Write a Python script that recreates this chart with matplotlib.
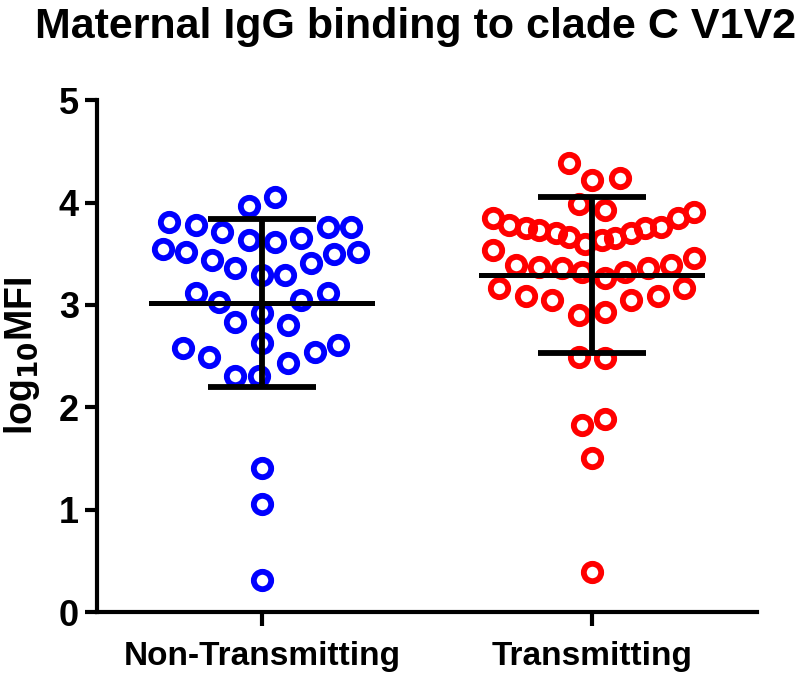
import numpy as np
import matplotlib.pyplot as plt

plt.rcParams['font.family'] = ['Liberation Sans', 'DejaVu Sans']
plt.rcParams['font.weight'] = 'bold'
plt.rcParams['mathtext.default'] = 'bf'

groups = ['Non-Transmitting', 'Transmitting']
colors = ['#0000ff', '#ff0000']

# log10 MFI values, with horizontal scatter offsets (in category units)
nt_vals = [4.05, 3.97, 3.81, 3.78, 3.71, 3.76, 3.76, 3.55, 3.52, 3.63, 3.61, 3.65,
           3.50, 3.52, 3.44, 3.36, 3.29, 3.29, 3.41, 3.12, 3.03, 3.12, 3.05, 2.83,
           2.92, 2.80, 2.58, 2.49, 2.63, 2.54, 2.61, 2.31, 2.31, 2.43, 1.41, 1.06, 0.31]
nt_off = [0.04, -0.04, -0.28, -0.20, -0.12, 0.20, 0.27, -0.30, -0.23, -0.04, 0.04, 0.12,
          0.22, 0.29, -0.15, -0.08, 0.0, 0.07, 0.15, -0.20, -0.13, 0.20, 0.12, -0.08,
          0.0, 0.08, -0.24, -0.16, 0.0, 0.16, 0.23, -0.08, -0.01, 0.08, 0.0, 0.0, 0.0]

t_vals = [4.39, 4.22, 4.24, 3.99, 3.93, 3.85, 3.78, 3.75, 3.73, 3.70, 3.66, 3.60, 3.63,
          3.65, 3.70, 3.75, 3.76, 3.85, 3.91, 3.54, 3.39, 3.37, 3.36, 3.32, 3.26, 3.32,
          3.36, 3.39, 3.46, 3.17, 3.09, 3.05, 3.05, 3.09, 3.17, 2.90, 2.93, 2.49, 2.48,
          1.83, 1.89, 1.50, 0.39]
t_off = [-0.07, 0.0, 0.085, -0.04, 0.04, -0.30, -0.25, -0.20, -0.16, -0.11, -0.07, -0.02, 0.03,
         0.07, 0.12, 0.16, 0.21, 0.26, 0.31, -0.30, -0.23, -0.16, -0.09, -0.03, 0.04, 0.10,
         0.17, 0.24, 0.31, -0.28, -0.20, -0.12, 0.12, 0.20, 0.28, -0.04, 0.04, -0.04, 0.04,
         -0.03, 0.04, 0.0, 0.0]

means = [3.02, 3.29]
sds = [0.82, 0.76]

fig = plt.figure(figsize=(8, 6.77), dpi=100)
ax = fig.add_axes([0.121, 0.096, 0.825, 0.756])

for i, (vals, off) in enumerate([(nt_vals, nt_off), (t_vals, t_off)]):
    ax.plot(i + np.array(off), vals, 'o', ms=12.5, mfc='none', mec=colors[i], mew=4.2, zorder=2)
    ax.plot([i - 0.335, i + 0.335], [means[i]] * 2, color='black', lw=3.6, zorder=3)
    ax.errorbar(i, means[i], yerr=sds[i], fmt='none', ecolor='black', elinewidth=4.2,
                capsize=39, capthick=4.2, zorder=3)

ax.set_xlim(-0.5, 1.5)
ax.set_ylim(0, 5)
ax.set_xticks([0, 1])
ax.set_xticklabels(groups, fontsize=24, fontweight='bold')
ax.set_yticks(range(6))
ax.tick_params(axis='y', labelsize=26, width=3, length=9, pad=4)
ax.tick_params(axis='x', width=3, length=10, pad=11)
for s in ['top', 'right']:
    ax.spines[s].set_visible(False)
for s in ['left', 'bottom']:
    ax.spines[s].set_linewidth(3)
ax.set_ylabel(r'log$_{10}$MFI', fontsize=27, fontweight='bold', labelpad=12)
fig.text(0.52, 0.96, 'Maternal IgG binding to clade C V1V2', fontsize=31,
         fontweight='bold', ha='center', va='center')

fig.savefig('out.png', dpi=100)
